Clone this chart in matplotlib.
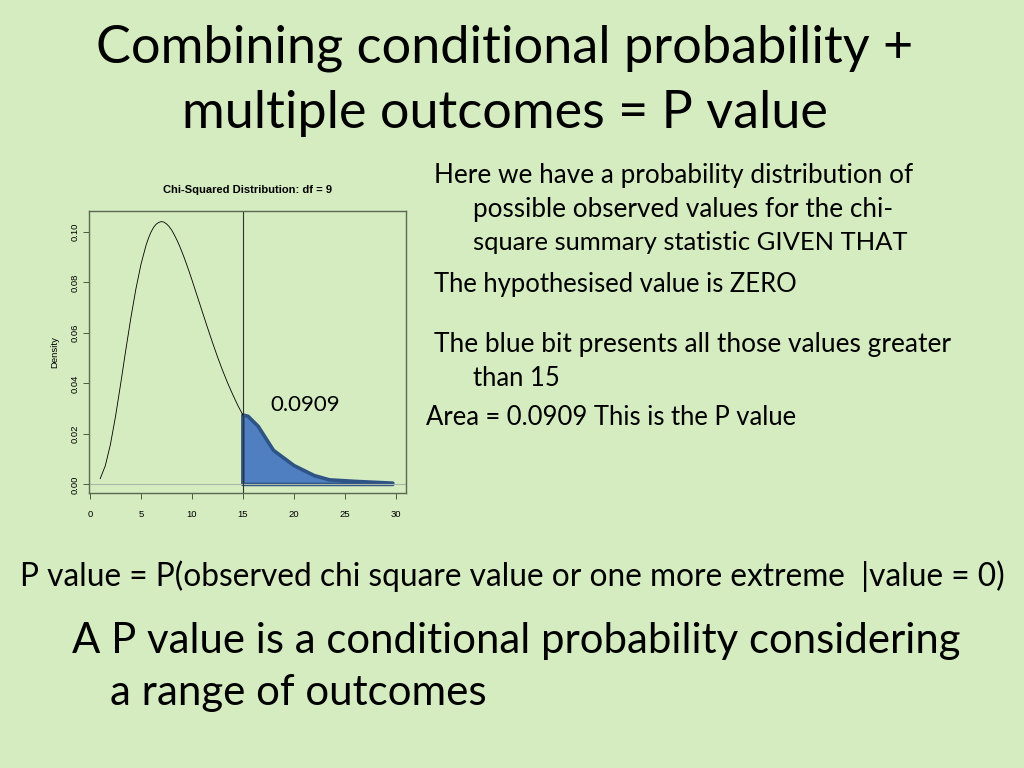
"""Slide: combining conditional probability + multiple outcomes = P value."""

import matplotlib
matplotlib.use("Agg")
import matplotlib.pyplot as plt

# chi-squared (df = 9) density, x from 1 to 15
curve_x = [1, 1.5, 2, 2.5, 3, 3.5, 4, 4.5, 5, 5.5, 5.75, 6, 6.25, 6.5, 6.75,
           7, 7.25, 7.5, 7.75, 8, 8.25, 8.5, 8.75, 9, 9.25, 9.5, 9.75, 10,
           10.5, 11, 11.5, 12, 12.5, 13, 13.5, 14, 14.5, 15]
curve_y = [0.0023, 0.0074, 0.0158, 0.0269, 0.0397, 0.0530, 0.0658, 0.0774,
           0.0872, 0.0948, 0.0977, 0.1001, 0.1019, 0.1031, 0.1038,
           0.1041, 0.1039, 0.1032, 0.1022, 0.1008, 0.0990, 0.0970, 0.0948,
           0.0923, 0.0897, 0.0869, 0.0840, 0.0810,
           0.0748, 0.0686, 0.0624, 0.0564, 0.0506, 0.0452, 0.0402, 0.0356,
           0.0313, 0.0275]

# shaded upper tail (x > 15), coarse polygon as drawn
tail_x = [15, 15, 15.5, 16.5, 18, 20, 22, 23.5, 26, 29.7, 29.7]
tail_y = [0, 0.0275, 0.0270, 0.0230, 0.0135, 0.0075, 0.0035, 0.0018, 0.0012, 0.0005, 0]

x_ticks = [0, 5, 10, 15, 20, 25, 30]
y_ticks = [0.00, 0.02, 0.04, 0.06, 0.08, 0.10]
cutoff = 15
area_label = "0.0909"

title_lines = ["Combining conditional probability +", "multiple outcomes = P value"]
side_lines = [
    ("Here we have a probability distribution of", 434, 913, 173),
    ("possible observed values for the chi-", 473, 893, 207),
    ("square summary statistic GIVEN THAT", 473, 907, 241),
    ("The hypothesised value is ZERO", 434, 797, 282),
    ("The blue bit presents all those values greater", 434, 951, 342),
    ("than 15", 473, 560, 376),
    ("Area = 0.0909 This is the P value", 426, 797, 415),
]
bottom_lines = [
    ("P value = P(observed chi square value or one more extreme  |value = 0)", 20, 1005, 573),
    ("A P value is a conditional probability considering", 72, 962, 637),
    ("a range of outcomes", 110, 487, 690),
]

BG = "#d5ebc0"
W, H = 1024, 768
SLIDE_FONT = ["Lato", "DejaVu Sans"]
R_FONT = ["Liberation Sans", "DejaVu Sans"]

fig = plt.figure(figsize=(W / 100, H / 100), dpi=100, facecolor=BG)
renderer = fig.canvas.get_renderer()


def fit_text(s, x0, x1, yc, ha="left", **kw):
    """Place text so it spans pixels x0..x1 centred on pixel row yc."""
    t = fig.text(x0 / W if ha == "left" else (x0 + x1) / 2 / W, 1 - yc / H, s,
                 fontsize=20, ha=ha, va="center_baseline", family=SLIDE_FONT, **kw)
    w = t.get_window_extent(renderer).width
    t.set_fontsize(20 * (x1 - x0) / w)
    return t


fit_text(title_lines[0], 95, 915, 44, ha="center")
fit_text(title_lines[1], 181, 829, 109, ha="center")
for s, x0, x1, y in side_lines:
    fit_text(s, x0, x1, y)
for s, x0, x1, y in bottom_lines:
    fit_text(s, x0, x1, y)

# chart panel in R base-graphics style
ax = fig.add_axes([89 / W, 1 - 493 / H, 317 / W, 282 / H])
ax.set_facecolor(BG)
ax.plot(curve_x, curve_y, color="black", lw=0.6)
ax.axhline(0, color="#aab8a8", lw=0.8)
ax.axvline(cutoff, color="#333333", lw=0.8)
ax.fill(tail_x, tail_y, facecolor="#4f7fc0", edgecolor="#2e5486", lw=2.6,
        joinstyle="round", capstyle="round")
ax.text(17.7, 0.0314, area_label, fontsize=16, va="center", family=SLIDE_FONT)

ax.set_xlim(-0.1, 31.0)
ax.set_ylim(-0.0034, 0.1083)
ax.set_xticks(x_ticks)
ax.set_xticklabels([str(v) for v in x_ticks], family=R_FONT)
ax.set_yticks(y_ticks)
ax.set_yticklabels([f"{v:.2f}" for v in y_ticks], rotation=90, va="center",
                   family=R_FONT)
ax.tick_params(labelsize=6.8, length=4, width=0.7, color="#4a5a48")
ax.tick_params(axis="x", pad=8)
ax.tick_params(axis="y", pad=3)
ax.set_ylabel("Density", fontsize=6.8, family=R_FONT, labelpad=8)
ax.set_title("Chi-Squared Distribution: df = 9", fontsize=8, fontweight="bold",
             family=R_FONT, pad=13)
for sp in ax.spines.values():
    sp.set_color("#5a6a50")
    sp.set_linewidth(1.0)

fig.savefig("out.png", dpi=100, facecolor=BG)
